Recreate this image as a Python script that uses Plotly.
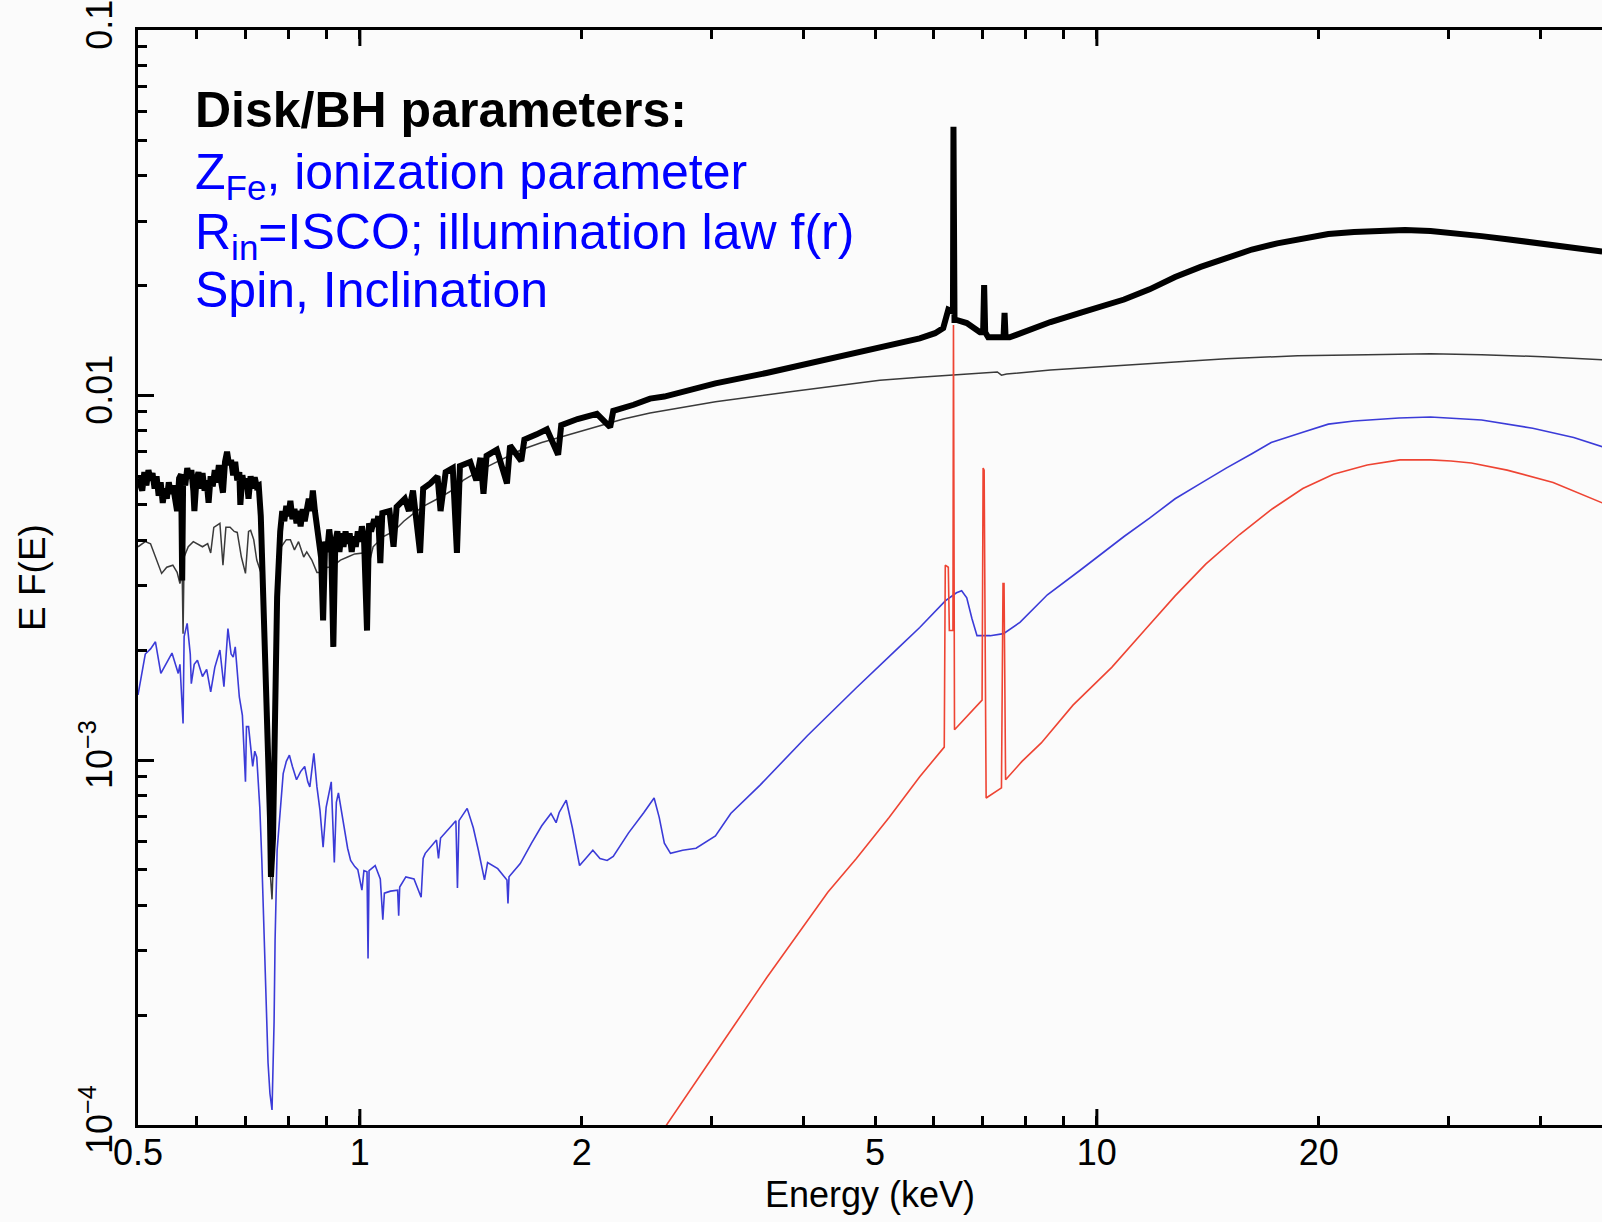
import numpy as np
import plotly.graph_objects as go

# ---------------- data (energy in keV, E F(E)) ----------------
# total model (thick black)
e_total = [0.50,0.5067,0.5100,0.5133,0.5166,0.520,0.5232,0.5266,0.5299,0.5333,
           0.5367,0.5402,0.5437,0.5471,0.5505,0.5541,0.5577,0.5613,0.5649,0.5685,
           0.5721,0.5740,0.5758,0.5795,0.5832,0.5869,0.5907,0.5944,0.5963,0.6001,
           0.6040,0.6078,0.6117,0.6156,0.6195,0.6234,0.6274,0.6315,0.6355,0.6396,
           0.6437,0.6478,0.6520,0.6562,0.6604,0.6645,0.6688,0.6731,0.6774,0.6818,
           0.6862,0.6884,0.6928,0.6973,0.7017,0.7062,0.7108,0.7154,0.7200,0.7246,
           0.7291,0.7338,
           0.7410,0.7482,0.7551,0.7575,0.7624,0.7673,
           0.7722,0.7797,0.7847,0.7897,0.7947,0.7999,0.8049,0.8100,0.8152,0.8205,
           0.8257,0.8310,0.8364,0.8417,0.8471,0.8525,0.8580,0.8634,0.8690,0.8745,
           0.8801,0.8858,0.8915,0.8972,0.9029,0.9087,0.9145,0.9204,0.9262,0.9322,
           0.9382,0.9442,0.9502,0.9563,0.9625,0.9686,0.9748,0.9810,0.9873,0.9936,
           1.0,1.0064,1.0128,1.0226,1.0292,1.0357,1.0457,1.0524,1.0591,1.0659,
           1.0727,
           1.0970,1.1110,1.1217,1.1508,1.1655,1.1805,1.2071,1.2187,1.2462,1.2746,
           1.2868,1.3074,1.3369,1.3543,1.3671,1.4116,1.4388,1.4575,1.4714,1.4857,
           1.5339,1.5834,1.5988,1.6558,1.6720,1.7374,1.7939,1.8579,1.8760,1.9740,
           2.0972,2.1858,2.2070,2.3524,2.4758,2.5891,3.0372,3.5619,4.178,4.9960,
           5.3951,5.7496,6.032,6.1878,6.2869,6.3481,6.3788,6.3891,6.4097,6.4497,
           6.6601,6.9416,7.0090,7.0317,7.0543,7.1213,7.3988,7.4707,7.4948,7.5190,
           7.6147,8.6513,9.4915,10.02,10.886,11.79,12.77,13.83,14.98,16.23,
           17.57,19.03,20.61,22.33,24.17,26.19,28.36,30.72,33.27,36.03,
           39.03,42.27,45.79,48.49]
f_total = [5.916e-3,5.475e-3,6.149e-3,5.655e-3,6.229e-3,5.840e-3,6.112e-3,5.546e-3,5.992e-3,5.302e-3,
           5.765e-3,5.068e-3,5.546e-3,5.200e-3,5.765e-3,5.370e-3,5.655e-3,5.134e-3,4.813e-3,5.916e-3,
           6.070e-3,3.105e-3,6.031e-3,5.655e-3,6.310e-3,5.916e-3,6.229e-3,5.475e-3,4.813e-3,5.840e-3,
           6.149e-3,5.546e-3,6.112e-3,5.475e-3,5.840e-3,5.068e-3,5.992e-3,5.619e-3,6.229e-3,5.765e-3,
           6.435e-3,5.840e-3,5.405e-3,6.560e-3,6.996e-3,6.435e-3,6.645e-3,6.031e-3,6.560e-3,5.840e-3,
           6.149e-3,5.003e-3,6.031e-3,5.546e-3,5.916e-3,5.200e-3,5.992e-3,5.546e-3,5.953e-3,5.619e-3,
           5.655e-3,4.660e-3,
           2.526e-3,1.460e-3,6.957e-4,4.786e-4,6.115e-4,1.326e-3,
           2.800e-3,4.232e-3,4.813e-3,4.513e-3,4.971e-3,4.660e-3,5.134e-3,4.571e-3,4.875e-3,4.455e-3,
           4.813e-3,4.370e-3,4.875e-3,4.513e-3,4.971e-3,5.200e-3,4.813e-3,5.475e-3,4.813e-3,4.370e-3,
           4.098e-3,3.601e-3,2.415e-3,3.967e-3,3.719e-3,4.286e-3,3.841e-3,2.042e-3,3.967e-3,4.232e-3,
           3.719e-3,4.178e-3,3.841e-3,4.232e-3,3.916e-3,4.178e-3,3.719e-3,4.098e-3,3.841e-3,4.232e-3,
           3.967e-3,4.370e-3,4.098e-3,2.264e-3,4.455e-3,4.232e-3,4.571e-3,4.370e-3,4.660e-3,3.464e-3,
           4.752e-3,
           4.813e-3,3.841e-3,4.939e-3,5.200e-3,4.813e-3,5.475e-3,3.695e-3,5.546e-3,5.728e-3,5.992e-3,
           4.813e-3,6.149e-3,6.310e-3,3.695e-3,6.393e-3,6.560e-3,5.840e-3,6.730e-3,5.370e-3,6.818e-3,
           7.086e-3,5.728e-3,7.271e-3,6.602e-3,7.558e-3,7.806e-3,8.062e-3,6.862e-3,8.273e-3,8.598e-3,
           8.880e-3,8.166e-3,9.053e-3,9.410e-3,9.781e-3,9.908e-3,1.077e-2,1.150e-2,1.233e-2,1.342e-2,
           1.385e-2,1.431e-2,1.478e-2,1.526e-2,1.714e-2,1.692e-2,1.692e-2,5.44e-2,1.607e-2,1.607e-2,
           1.576e-2,1.487e-2,1.487e-2,2.001e-2,1.487e-2,1.440e-2,1.440e-2,1.440e-2,1.681e-2,1.440e-2,
           1.440e-2,1.586e-2,1.681e-2,1.736e-2,1.828e-2,1.949e-2,2.106e-2,2.246e-2,2.381e-2,2.506e-2,
           2.606e-2,2.691e-2,2.762e-2,2.798e-2,2.816e-2,2.834e-2,2.816e-2,2.780e-2,2.727e-2,2.675e-2,
           2.623e-2,2.556e-2,2.506e-2,2.475e-2]

# continuum (thin dark line)
e_cont = [0.50,0.5115,0.520,0.528,0.5383,0.547,0.5575,0.565,0.570,0.574,
          0.5756,0.5775,0.585,0.5943,0.602,0.6116,0.6216,0.6275,0.6336,0.6458,
          0.652,0.658,0.6667,0.6753,0.6818,0.6906,0.6995,0.7063,0.7109,0.7178,
          0.7246,0.7339,0.7410,0.7482,0.7551,0.760,0.7649,0.7697,0.7747,0.7822,
          0.7947,0.8049,0.8152,0.8257,0.8391,0.8471,0.8606,0.8745,0.8915,0.9029,
          0.9116,0.9262,0.9412,0.9625,0.9842,1.0128,1.0226,1.0423,1.0762,1.1110,
          1.1471,1.1843,1.2226,1.2826,1.3456,1.3804,1.4575,1.5535,1.6558,1.7652,
          1.8881,2.0707,2.2784,2.4758,3.0372,3.8592,5.0763,5.7496,7.1673,7.328,
          7.4227,7.5434,8.6513,9.4915,10.886,12.77,14.98,18.73,23.27,28.36,
          33.27,40.29,48.49]
f_cont = [3.841e-3,3.967e-3,3.916e-3,3.601e-3,3.247e-3,3.376e-3,3.420e-3,3.268e-3,3.046e-3,3.268e-3,
          2.220e-3,3.601e-3,3.841e-3,3.967e-3,3.916e-3,3.841e-3,3.916e-3,3.695e-3,4.342e-3,4.455e-3,
          3.420e-3,4.342e-3,4.342e-3,4.232e-3,4.205e-3,3.601e-3,3.247e-3,4.232e-3,4.259e-3,4.018e-3,
          3.532e-3,3.268e-3,1.952e-3,9.003e-4,5.041e-4,4.153e-4,6.115e-4,1.326e-3,2.694e-3,3.841e-3,
          4.018e-3,4.018e-3,3.767e-3,3.967e-3,3.601e-3,3.719e-3,3.532e-3,3.268e-3,3.268e-3,3.376e-3,
          3.376e-3,3.442e-3,3.532e-3,3.601e-3,3.672e-3,3.695e-3,3.268e-3,3.841e-3,4.098e-3,4.232e-3,
          4.513e-3,4.752e-3,4.971e-3,5.234e-3,5.546e-3,5.840e-3,6.229e-3,6.645e-3,7.086e-3,7.413e-3,
          7.706e-3,8.166e-3,8.598e-3,8.937e-3,9.594e-3,1.023e-2,1.098e-2,1.120e-2,1.157e-2,1.157e-2,
          1.134e-2,1.142e-2,1.172e-2,1.187e-2,1.210e-2,1.233e-2,1.258e-2,1.282e-2,1.291e-2,1.299e-2,
          1.291e-2,1.274e-2,1.250e-2]

# reflection component (blue)
e_refl = [0.50,0.5115,0.520,0.528,0.537,0.545,0.556,0.567,0.570,0.5756,
          0.5775,0.583,0.5887,0.5906,0.596,0.602,0.6116,0.6196,0.6275,0.6356,
          0.6458,0.654,0.658,0.6622,0.6688,0.6732,0.6775,0.6862,0.6928,0.6995,
          0.7017,0.7063,0.7155,0.7201,0.7246,0.7315,0.7362,0.7410,0.7458,0.7506,
          0.7551,0.760,0.7649,0.7673,0.7722,0.7797,0.787,0.7947,0.8024,0.810,
          0.8205,0.831,0.8417,0.8498,0.8553,0.8661,0.8745,0.8829,0.8915,0.900,
          0.9145,0.9233,0.9292,0.9352,0.9502,0.9625,0.9716,0.9842,0.9936,1.0064,
          1.0128,1.0226,1.0259,1.0292,1.0490,1.0659,1.0744,1.0796,1.1005,1.1253,
          1.1290,1.1326,1.1545,1.1843,1.2110,1.2187,1.2266,1.2705,1.2785,1.2868,
          1.3243,1.3499,1.3565,1.3630,1.3983,1.4253,1.4482,1.4761,1.4905,1.5385,
          1.5834,1.5885,1.5936,1.6506,1.7098,1.7652,1.8168,1.8461,1.8640,1.9055,
          1.9424,1.9866,2.0251,2.0707,2.1174,2.1652,2.2070,2.3154,2.4289,2.5075,
          2.5483,2.5891,2.6394,2.7416,2.8586,3.0372,3.1860,3.4944,4.0473,4.7174,
          5.3951,5.7496,6.2278,6.4497,6.5546,6.6601,6.7668,6.8763,7.1673,7.4707,
          7.8632,8.5680,9.4915,10.02,10.886,11.79,12.77,13.83,14.98,16.23,
          17.24,19.03,20.61,22.33,25.70,28.36,33.27,39.03,44.36,48.49]
f_refl = [1.508e-3,1.952e-3,2.016e-3,2.109e-3,1.727e-3,1.830e-3,1.964e-3,1.727e-3,1.830e-3,1.259e-3,
          2.178e-3,2.369e-3,1.952e-3,1.619e-3,1.830e-3,1.878e-3,1.694e-3,1.772e-3,1.538e-3,1.795e-3,
          2.003e-3,1.588e-3,1.952e-3,2.293e-3,1.952e-3,1.914e-3,2.042e-3,1.489e-3,1.326e-3,8.718e-4,
          1.235e-3,1.235e-3,9.603e-4,1.058e-3,1.018e-3,7.420e-4,5.307e-4,3.490e-4,2.181e-4,1.481e-4,
          1.220e-4,1.100e-4,1.916e-4,3.209e-4,5.660e-4,7.420e-4,9.179e-4,9.917e-4,1.031e-3,9.603e-4,
          8.831e-4,9.298e-4,9.603e-4,8.718e-4,8.443e-4,1.044e-3,8.443e-4,7.278e-4,5.770e-4,7.420e-4,
          8.718e-4,5.240e-4,7.664e-4,8.128e-4,6.736e-4,5.733e-4,5.307e-4,5.106e-4,5.008e-4,4.401e-4,
          4.976e-4,4.943e-4,2.858e-4,4.976e-4,5.139e-4,4.725e-4,3.651e-4,4.317e-4,4.373e-4,4.401e-4,
          3.746e-4,4.487e-4,4.786e-4,4.725e-4,4.207e-4,5.376e-4,5.551e-4,6.037e-4,5.376e-4,6.115e-4,
          6.523e-4,6.823e-4,4.458e-4,6.823e-4,7.372e-4,6.523e-4,5.660e-4,4.694e-4,5.240e-4,5.041e-4,
          4.694e-4,4.047e-4,4.786e-4,5.206e-4,5.921e-4,6.607e-4,7.139e-4,6.736e-4,7.185e-4,7.762e-4,
          6.523e-4,5.139e-4,5.376e-4,5.660e-4,5.376e-4,5.307e-4,5.445e-4,6.316e-4,7.185e-4,7.870e-4,
          6.957e-4,5.921e-4,5.551e-4,5.660e-4,5.733e-4,6.195e-4,7.139e-4,8.551e-4,1.166e-3,1.578e-3,
          2.042e-3,2.308e-3,2.729e-3,2.873e-3,2.911e-3,2.782e-3,2.446e-3,2.192e-3,2.192e-3,2.220e-3,
          2.384e-3,2.837e-3,3.312e-3,3.602e-3,4.098e-3,4.601e-3,5.200e-3,5.730e-3,6.310e-3,6.908e-3,
          7.413e-3,7.911e-3,8.326e-3,8.490e-3,8.654e-3,8.710e-3,8.545e-3,8.115e-3,7.657e-3,7.224e-3]

# line-emission component (red)
e_line = [2.589,2.8952,3.2163,3.5619,4.0087,4.3145,4.7174,5.2249,5.7496,6.2078,
          6.2278,6.2869,6.3072,6.3788,6.3891,6.4097,6.9865,7.0090,7.0317,7.0755,
          7.4227,7.4587,7.4828,7.5190,7.9141,8.4058,9.2818,10.476,11.60,12.77,
          14.05,15.62,17.29,19.03,20.94,23.27,25.78,28.36,30.23,32.22,
          36.03,41.60,48.49]
f_line = [9.8e-5,1.361e-4,1.867e-4,2.528e-4,3.535e-4,4.345e-4,5.376e-4,6.957e-4,9.003e-4,1.085e-3,
          3.420e-3,3.376e-3,2.264e-3,2.264e-3,1.556e-2,1.211e-3,1.460e-3,6.310e-3,6.229e-3,7.870e-4,
          8.388e-4,3.046e-3,3.046e-3,8.831e-4,9.917e-4,1.114e-3,1.414e-3,1.795e-3,2.264e-3,2.818e-3,
          3.442e-3,4.150e-3,4.875e-3,5.546e-3,6.070e-3,6.435e-3,6.645e-3,6.645e-3,6.602e-3,6.518e-3,
          6.229e-3,5.765e-3,5.068e-3]

x_tickvals = [0.5, 1, 2, 5, 10, 20]
x_ticktext = ["0.5", "1", "2", "5", "10", "20"]
x_minor = [0.6, 0.7, 0.8, 0.9, 3, 4, 6, 7, 8, 9, 30, 40]
x_long = [1, 10]
y_tickvals = [1e-4, 1e-3, 1e-2, 1e-1]
y_ticktext = ["10<sup>\u22124</sup>", "10<sup>\u22123</sup>", "0.01", "0.1"]
y_minor = [m * 10.0 ** p for p in (-4, -3, -2) for m in range(2, 10)]

text_lines = ["<b>Disk/BH parameters:</b>",
              "Z<sub>Fe</sub>, ionization parameter",
              "R<sub>in</sub>=ISCO; illumination law f(r)",
              "Spin, Inclination"]
text_colors = ["#000000", "#0000ff", "#0000ff", "#0000ff"]

# ---------------- figure ----------------
W, H = 1602, 1222
ML, MT, MB = 138, 30, 97
plot_w = W - ML
plot_h = H - MT - MB
px_per_decade = 737.0
FONT = "Liberation Sans, Arial, Helvetica, sans-serif"
BG = "#fbfbfb"

fig = go.Figure()
fig.add_trace(go.Scatter(x=e_cont, y=f_cont, mode="lines",
                         line=dict(color="#3a3a3a", width=1.5), hoverinfo="skip"))
fig.add_trace(go.Scatter(x=e_refl, y=f_refl, mode="lines",
                         line=dict(color="#3b3bd8", width=1.6), hoverinfo="skip"))
fig.add_trace(go.Scatter(x=e_line, y=f_line, mode="lines",
                         line=dict(color="#ee4433", width=1.6), hoverinfo="skip"))
fig.add_trace(go.Scatter(x=e_total, y=f_total, mode="lines",
                         line=dict(color="#000000", width=6), hoverinfo="skip"))

xmin_log = np.log10(0.5)
xmax_log = xmin_log + plot_w / px_per_decade

tick_font = dict(family=FONT, size=36, color="black")
fig.update_layout(
    width=W, height=H,
    margin=dict(l=ML, r=0, t=MT, b=MB, pad=0),
    paper_bgcolor=BG, plot_bgcolor=BG,
    showlegend=False,
    font=dict(family=FONT, color="black"),
    xaxis=dict(type="log", range=[xmin_log, xmax_log],
               showline=True, linecolor="black", linewidth=3, mirror="ticks",
               ticks="inside", ticklen=9, tickwidth=3, tickcolor="black",
               tickmode="array", tickvals=x_tickvals, ticktext=x_ticktext,
               tickfont=tick_font, showgrid=False, zeroline=False,
               ticklabelstandoff=-6, ticklabeloverflow="allow",
               minor=dict(tickmode="array", tickvals=x_minor, ticks="inside",
                          ticklen=9, tickwidth=3, tickcolor="black", showgrid=False),
               title=dict(text="Energy (keV)", font=dict(family=FONT, size=36, color="black"),
                          standoff=10)),
    yaxis=dict(type="log", range=[-4, -0.9995],
               showline=True, linecolor="black", linewidth=3,
               ticks="inside", ticklen=16, tickwidth=3, tickcolor="black",
               tickmode="array", tickvals=y_tickvals, ticktext=y_ticktext,
               tickangle=-90, tickfont=tick_font, showgrid=False, zeroline=False,
               ticklabelstandoff=9, ticklabeloverflow="allow",
               minor=dict(tickmode="array", tickvals=y_minor, ticks="inside",
                          ticklen=9, tickwidth=3, tickcolor="black", showgrid=False),
               title=dict(text="E F(E)", font=dict(family=FONT, size=37, color="black"),
                          standoff=17)),
)

# longer decade ticks on the energy axis (bottom and top)
for xv in x_long:
    for y0, y1 in ((0, 16 / plot_h), (1, 1 - 16 / plot_h)):
        fig.add_shape(type="line", xref="x", yref="paper", x0=xv, x1=xv, y0=y0, y1=y1,
                      line=dict(color="black", width=3))

# text block
line_y_px = [110, 176, 236, 290]
for txt, col, ypx in zip(text_lines, text_colors, line_y_px):
    fig.add_annotation(xref="paper", yref="paper",
                       x=(193 - ML) / plot_w, y=1 - (ypx - MT) / plot_h,
                       xanchor="left", yanchor="middle", showarrow=False,
                       text=txt, font=dict(family=FONT, size=50, color=col))

fig.write_html("out.html")
